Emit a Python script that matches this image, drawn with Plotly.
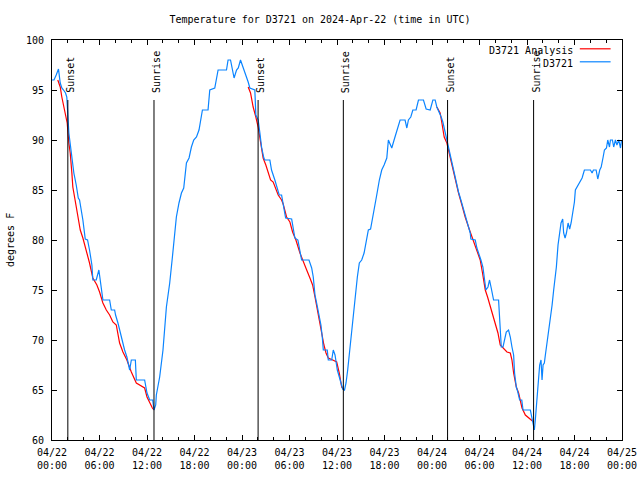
import pandas as pd
import plotly.graph_objects as go

START = pd.Timestamp("2024-04-22 00:00")

# D3721 observations: hours since 2024-04-22 00:00 UTC, temperature (F)
obs_hours = [0, 0.25, 0.53, 0.82, 1.04, 1.24, 1.46, 1.71, 1.87, 2.00, 2.13, 2.43, 2.76, 3.06, 3.32, 3.48, 3.69,
             3.90, 4.20, 4.49, 4.74, 5.04, 5.16, 5.59, 5.92, 6.23, 6.43, 7.28, 7.49, 7.91, 8.03, 8.33, 8.76, 9.17,
             9.46, 9.81, 10.02, 10.53, 10.65, 11.70, 12.00, 12.34, 12.72, 12.88, 13.10, 13.18, 13.60, 14.02, 14.45,
             14.87, 15.21, 15.50, 15.71, 16.04, 16.35, 16.64, 16.98, 17.31, 17.61, 17.90, 18.25, 18.57, 18.88,
             19.00, 19.71, 19.93, 20.56, 20.78, 20.98, 22.04, 22.24, 22.55, 22.75, 23.00, 23.31, 23.53, 23.81,
             24.14, 24.48, 24.78, 24.99, 25.62, 25.75, 26.04, 26.26, 26.47, 26.76, 26.89, 27.52, 27.73, 28.15,
             28.37, 28.70, 29.00, 29.13, 29.33, 29.51, 30.27, 30.56, 30.68, 31.06, 31.32, 31.53, 32.46, 32.80,
             33.00, 33.22, 33.43, 33.76, 33.97, 34.14, 34.27, 34.77, 34.90, 35.33, 35.53, 35.75, 35.87, 36.04,
             36.29, 36.47, 36.72, 36.95, 37.14, 37.35, 37.64, 37.86, 38.06, 38.27, 38.40, 38.57, 38.82, 39.12,
             39.42, 39.67, 39.96, 40.24, 40.52, 40.68, 41.02, 41.35, 41.65, 41.95, 42.29, 42.49, 42.70, 42.92,
             43.21, 43.55, 43.97, 44.60, 44.82, 45.02, 45.32, 45.58, 45.99, 46.29, 46.92, 47.26, 47.77, 48.11,
             48.40, 48.61, 48.91, 49.16, 49.37, 49.66, 49.88, 50.08, 50.30, 50.59, 50.93, 51.14, 51.35, 51.65,
             51.98, 52.32, 52.61, 52.83, 52.91, 53.46, 53.67, 54.00, 54.18, 54.43, 54.60, 54.81, 55.07, 55.27,
             55.48, 55.78, 56.41, 56.54, 56.62, 56.75, 56.97, 57.13, 57.38, 57.67, 57.89, 58.10, 58.31, 58.43,
             58.65, 58.81, 59.07, 59.34, 59.50, 60.42, 60.55, 60.76, 60.93, 61.05, 61.18, 61.34, 61.47, 61.60,
             61.77, 61.90, 62.03, 62.19, 62.32, 62.53, 62.74, 62.95, 63.17, 63.37, 63.58, 63.71, 63.92, 64.13,
             64.30, 64.51, 64.63, 64.81, 64.98, 65.19, 65.39, 65.57, 65.82, 65.99, 66.11, 66.33, 66.62, 66.96,
             67.25, 68.01, 68.22, 68.39, 68.73, 68.94, 69.19, 69.37, 69.62, 69.78, 70.04, 70.20, 70.42, 70.54,
             70.79, 70.95, 71.17, 71.36, 71.59, 71.81, 71.94]
obs_temp = [96, 96, 96.5, 97.1, 95.7, 95.2, 95, 94.7, 94.3, 91.8, 90.7, 88.8, 86.7, 85.5, 84.2, 84, 83,
            82, 80.1, 80, 79, 77.5, 76, 76, 77, 74.8, 74, 74, 73, 73, 72.5, 71.7, 70.2, 69,
            68.3, 67, 68, 68, 66, 66, 64.7, 64, 64, 63, 63.5, 64.5, 66.3, 69, 73.3,
            75.7, 78.3, 80.7, 82.3, 83.7, 84.7, 85.2, 87.7, 88.2, 89.3, 90, 90.3, 91, 92.3,
            93, 93, 95, 95.2, 96.3, 97, 97, 98, 98, 97, 96.2, 97, 97.2, 98,
            97.3, 96.4, 95.8, 95.2, 95, 92.5, 92, 90.7, 89.3, 88.2, 88, 88, 87, 86,
            85.3, 84.5, 84.5, 83.8, 82.8, 82.2, 82.1, 80.8, 80.2, 80, 78.8, 78, 78, 77.2,
            76.3, 74.5, 73.7, 72.5, 71.5, 70.3, 69, 69, 68, 68, 69, 68.5, 67.7, 67,
            66.3, 65.7, 65.1, 65, 65.7, 67, 69.3, 71, 72.5, 73.7, 75.2, 76.3, 77.7, 78,
            78.7, 79.8, 81, 81.1, 82.2, 83, 84.5, 86, 87, 87.5, 88.2, 90, 89.5, 89.2,
            90, 91, 92, 92, 91.2, 92, 92.3, 93, 93, 94, 94, 93.1, 93, 94,
            94, 93.3, 92.8, 92.3, 91.8, 90.8, 89.8, 89.2, 88.3, 87.3, 86.3, 85.7, 84.8, 84,
            83, 82, 81.3, 80.7, 80.1, 80, 79.2, 78.5, 78, 77.3, 76, 75, 75.3, 76,
            75.2, 74, 74, 72.5, 70.7, 69.3, 69.3, 70, 70.8, 71, 70.3, 69.3, 68.5, 66.7,
            65.3, 64.9, 64, 64, 63, 63, 62.5, 61.7, 61, 62, 63.3, 64.7, 65.5, 67.5,
            68, 66, 67.5, 67.7, 68.5, 69.7, 70.7, 71.7, 73.5, 75, 76.2, 77.3, 79.5, 81,
            81.7, 82.1, 80.7, 80.2, 80.7, 81.7, 81.1, 81.7, 82.8, 83.8, 85, 85.3, 85.7, 86.2,
            87, 87, 86.7, 87, 87, 86.1, 87, 87.3, 88.3, 89, 89.2, 90, 89.3, 90,
            90, 89.3, 90, 89.5, 90, 89.2, 90]

# D3721 Analysis (nighttime), three segments separated by None
ana_hours = [0.73, 1.04, 1.24, 1.46, 1.71, 1.92, 2.13, 2.30, 2.51, 2.63, 2.85, 3.06, 3.26, 3.57, 3.90, 4.33,
             4.74, 5.16, 5.67, 6.01, 6.43, 6.86, 7.28, 7.69, 8.12, 8.54, 8.96, 9.46, 10.02, 10.65, 11.07, 11.70,
             12.00, 12.34, 12.68, 12.88, None,
             24.78, 25.08, 25.41, 25.62, 25.75, 26.04, 26.26, 26.47, 26.67, 27.01, 27.31, 27.61, 27.94, 28.28,
             28.57, 29.00, 29.20, 29.63, 30.05, 30.39, 30.81, 31.32, 31.73, 32.17, 32.58, 32.92, 33.22, 33.51,
             33.85, 34.06, 34.35, 34.61, 34.90, 35.46, 35.96, 36.29, 36.59, 36.88, None,
             48.61, 49.03, 49.25, 49.54, 49.88, 50.08, 50.39, 50.71, 51.06, 51.35, 51.78, 52.19, 52.74, 53.17,
             53.67, 54.09, 54.38, 54.73, 55.02, 55.36, 55.70, 55.99, 56.33, 56.62, 56.97, 57.47, 57.89, 58.10,
             58.31, 58.65, 58.94, 59.37, 59.79, 60.21, 60.63, 60.84]
ana_temp = [96, 95.3, 94.3, 93.5, 92.3, 91.7, 89.7, 88.7, 86.7, 85.3, 84.3, 83.3, 82.7, 81, 80.2, 79,
            77.7, 76.2, 75.5, 74.8, 73.7, 73, 72.5, 71.8, 71.5, 69.7, 68.8, 68, 66.8, 65.7, 65.5, 65.2,
            64.3, 63.7, 63.2, 63, None,
            95.3, 94.7, 93.3, 92.5, 92.3, 91.3, 90.3, 89.3, 88.2, 87.5, 86.7, 86, 85.8, 85,
            84.5, 84, 83.6, 82.3, 81.8, 80.8, 80, 78.7, 77.8, 77, 76.2, 75.5, 74.3, 73,
            71.8, 70.7, 69.5, 68.7, 68.2, 68, 67.8, 66.7, 65.3, 65, None,
            93.3, 92.7, 91.7, 90.3, 89.7, 89, 87.8, 87, 85.7, 84.7, 83.5, 82.3, 81, 80,
            79, 78, 76.7, 75, 74.3, 73.3, 72.3, 71.5, 70.7, 69.5, 69.2, 68.8, 68.7, 68,
            66.7, 65.3, 64.7, 63.2, 62.5, 62.2, 62, 61.8]

sun_times = ["2024-04-22 02:00", "2024-04-22 12:53", "2024-04-23 02:02",
             "2024-04-23 12:48", "2024-04-24 01:58", "2024-04-24 12:50"]
sun_labels = ["Sunset", "Sunrise", "Sunset", "Sunrise", "Sunset", "Sunrise"]

tick_times = pd.date_range("2024-04-22 00:00", "2024-04-25 00:00", freq="6h")
tick_text = [t.strftime("%m/%d<br>%H:%M") for t in tick_times]

def to_time(hours):
    return [None if h is None else START + pd.Timedelta(hours=h) for h in hours]

FONT = "DejaVu Sans Mono"
RED = "#ff0000"
BLUE = "#0a84ff"

fig = go.Figure()
fig.add_trace(go.Scatter(x=to_time(ana_hours), y=ana_temp, mode="lines", name="D3721 Analysis",
                         line=dict(color=RED, width=1.2), connectgaps=False, showlegend=False))
fig.add_trace(go.Scatter(x=to_time(obs_hours), y=obs_temp, mode="lines", name="D3721",
                         line=dict(color=BLUE, width=1.2), showlegend=False))

for t, lab in zip(sun_times, sun_labels):
    fig.add_shape(type="line", xref="x", yref="y", x0=t, x1=t, y0=60, y1=94,
                  line=dict(color="black", width=1))
    fig.add_annotation(x=t, y=94, xref="x", yref="y", text=lab, textangle=-90, showarrow=False,
                       xanchor="center", yanchor="bottom", xshift=2, yshift=5,
                       font=dict(family=FONT, size=10, color="black"))

# legend (gnuplot-style: text right-aligned, sample on the right)
legend_items = [("D3721 Analysis", RED, 0.975), ("D3721", BLUE, 0.9425)]
for name, col, yp in legend_items:
    fig.add_annotation(x=0.918, y=yp, xref="paper", yref="paper", text=name, showarrow=False,
                       xanchor="right", yanchor="middle", font=dict(family=FONT, size=10, color="black"))
    fig.add_shape(type="line", xref="paper", yref="paper", x0=0.926, x1=0.98, y0=yp + 0.003, y1=yp + 0.003,
                  line=dict(color=col, width=1.2))

# y-axis title
fig.add_annotation(x=-42 / 570, y=0.5, xref="paper", yref="paper", text="degrees F", textangle=-90,
                   showarrow=False, xanchor="center", yanchor="middle",
                   font=dict(family=FONT, size=10, color="black"))

fig.update_layout(
    width=640, height=480,
    margin=dict(l=52, r=18, t=40, b=40, autoexpand=False),
    paper_bgcolor="white", plot_bgcolor="white",
    title=dict(text="Temperature for D3721 on 2024-Apr-22 (time in UTC)", x=0.5, xanchor="center",
               y=1 - 19 / 480, yanchor="middle", font=dict(family=FONT, size=10, color="black")),
    font=dict(family=FONT, size=10, color="black"),
    showlegend=False,
)
fig.update_xaxes(type="date", range=[tick_times[0], tick_times[-1]], tickvals=tick_times, ticktext=tick_text,
                 ticks="inside", ticklen=5, tickcolor="black", showline=True, linecolor="black", linewidth=1,
                 mirror="allticks", showgrid=False, zeroline=False, automargin=False, ticklabelstandoff=3,
                 minor=dict(dtick=2 * 3600 * 1000, ticks="inside", ticklen=3, tickcolor="black", showgrid=False),
                 tickfont=dict(family=FONT, size=10))
fig.update_yaxes(range=[60, 100], tickvals=[60, 65, 70, 75, 80, 85, 90, 95, 100],
                 ticks="inside", ticklen=5, tickcolor="black", showline=True, linecolor="black", linewidth=1,
                 mirror="allticks", showgrid=False, zeroline=False, automargin=False, ticklabelstandoff=5,
                 tickfont=dict(family=FONT, size=10))

fig.write_html("out.html")
